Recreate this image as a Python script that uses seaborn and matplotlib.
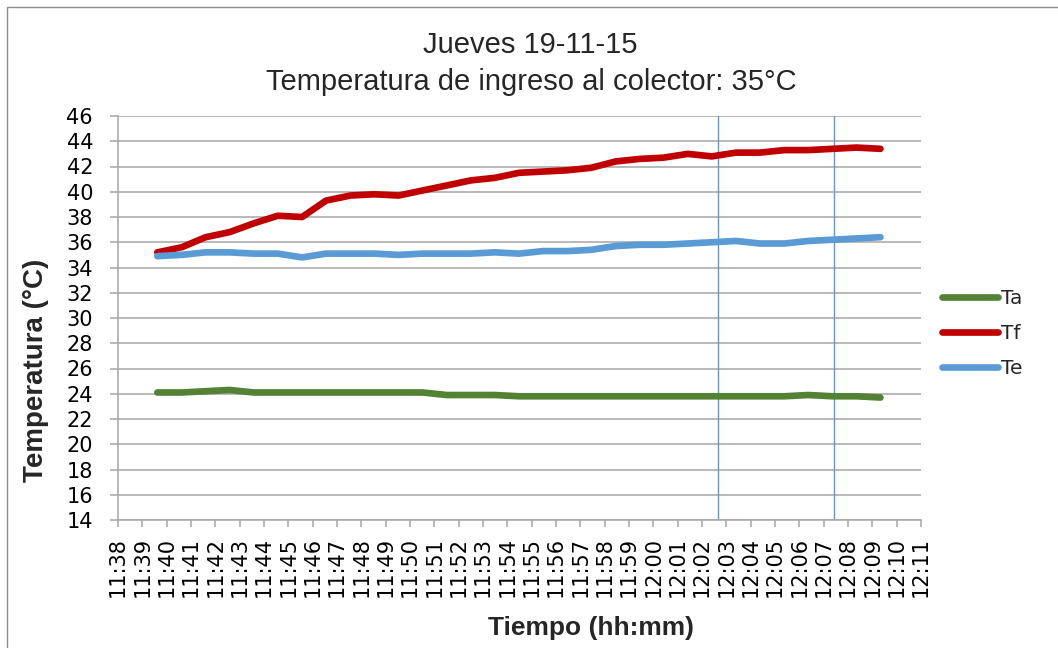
import matplotlib
matplotlib.use("Agg")
import matplotlib.pyplot as plt
import matplotlib.dates as mdates
import matplotlib.patches as mpatches
import seaborn as sns
import pandas as pd

# ---- data -----------------------------------------------------------
times = ["11:39:37", "11:40:37", "11:41:36", "11:42:35", "11:43:35", "11:44:34",
         "11:45:34", "11:46:33", "11:47:33", "11:48:32", "11:49:32", "11:50:31",
         "11:51:31", "11:52:30", "11:53:29", "11:54:29", "11:55:28", "11:56:28",
         "11:57:27", "11:58:27", "11:59:26", "12:00:25", "12:01:25", "12:02:24",
         "12:03:24", "12:04:23", "12:05:23", "12:06:22", "12:07:22", "12:08:21",
         "12:09:20"]
ta = [24.1, 24.1, 24.2, 24.3, 24.1, 24.1, 24.1, 24.1, 24.1, 24.1, 24.1, 24.1,
      23.9, 23.9, 23.9, 23.8, 23.8, 23.8, 23.8, 23.8, 23.8, 23.8, 23.8, 23.8,
      23.8, 23.8, 23.8, 23.9, 23.8, 23.8, 23.7]
tf = [35.2, 35.6, 36.4, 36.8, 37.5, 38.1, 38.0, 39.3, 39.7, 39.8, 39.7, 40.1,
      40.5, 40.9, 41.1, 41.5, 41.6, 41.7, 41.9, 42.4, 42.6, 42.7, 43.0, 42.8,
      43.1, 43.1, 43.3, 43.3, 43.4, 43.5, 43.4]
te = [34.9, 35.0, 35.2, 35.2, 35.1, 35.1, 34.8, 35.1, 35.1, 35.1, 35.0, 35.1,
      35.1, 35.1, 35.2, 35.1, 35.3, 35.3, 35.4, 35.7, 35.8, 35.8, 35.9, 36.0,
      36.1, 35.9, 35.9, 36.1, 36.2, 36.3, 36.4]
series_names = ["Ta", "Tf", "Te"]
series_colors = ["#548235", "#C00000", "#5B9BD5"]
vlines_t = ["12:02:40", "12:07:26"]
x_start, x_end = "11:38:00", "12:11:00"
y_ticks = list(range(14, 47, 2))
title1 = "Jueves 19-11-15"
title2 = "Temperatura de ingreso al colector: 35°C"
xlabel = "Tiempo (hh:mm)"
ylabel = "Temperatura (°C)"

day = "2015-11-19 "
t = pd.to_datetime([day + s for s in times])
df = pd.DataFrame({"t": list(t) * 3,
                   "val": ta + tf + te,
                   "serie": sum([[n] * len(times) for n in series_names], [])})

# ---- figure ---------------------------------------------------------
sns.set_theme(style="white")
plt.rcParams["font.family"] = ["DejaVu Sans"]
TICKFONT = "DejaVu Sans"
HEADFONT = "Liberation Sans"

fig = plt.figure(figsize=(10.58, 6.48), dpi=100)
ax = fig.add_axes([118 / 1058, 1 - 520 / 648, (921 - 118) / 1058, (520 - 116) / 648])

sns.lineplot(data=df, x="t", y="val", hue="serie", hue_order=series_names,
             palette=series_colors, linewidth=4.8, ax=ax, legend=False,
             solid_capstyle="round", solid_joinstyle="round", zorder=3)

for v in vlines_t:
    ax.axvline(pd.Timestamp(day + v), color="#5B9BD5", linewidth=1.0, zorder=2)

ax.set_xlim(pd.Timestamp(day + x_start), pd.Timestamp(day + x_end))
ax.set_ylim(min(y_ticks), max(y_ticks))
ax.set_yticks(y_ticks)
ax.xaxis.set_major_locator(mdates.MinuteLocator(interval=1))
ax.xaxis.set_major_formatter(mdates.DateFormatter("%H:%M"))

grid_c = "#A6A6A6"
ax.yaxis.grid(True, color=grid_c, linewidth=1.1)
ax.xaxis.grid(False)
for s in ["top", "right"]:
    ax.spines[s].set_visible(False)
for s in ["left", "bottom"]:
    ax.spines[s].set_color(grid_c)
    ax.spines[s].set_linewidth(1.1)
ax.tick_params(axis="y", direction="out", length=6, width=1.1, color=grid_c,
               labelsize=15, pad=12, left=True, labelcolor="black")
ax.tick_params(axis="x", direction="out", length=5, width=1.1, color=grid_c,
               labelsize=15, pad=7, bottom=True, rotation=90, labelcolor="black")
for lab in ax.get_xticklabels() + ax.get_yticklabels():
    lab.set_fontfamily(TICKFONT)
ax.set_xlabel("")
ax.set_ylabel("")

# legend
handles = [plt.Line2D([], [], color=c, linewidth=4.8, solid_capstyle="round")
           for c in series_colors]
fig.legend(handles, series_names, loc="center left",
           bbox_to_anchor=(932 / 1058, 1 - 333.5 / 648), frameon=False,
           prop={"family": TICKFONT, "size": 14.5},
           handlelength=2.8, handletextpad=0.15, labelspacing=0.8,
           borderpad=0)

# titles / labels
fig.text(530 / 1058, 1 - 45 / 648, title1, ha="center", va="center",
         fontsize=21, family=HEADFONT)
fig.text(531 / 1058, 1 - 82 / 648, title2, ha="center", va="center",
         fontsize=21, family=HEADFONT)
fig.text(591 / 1058, 1 - 628 / 648, xlabel, ha="center", va="center",
         fontsize=19, fontweight="bold", family=HEADFONT)
fig.text(36 / 1058, 1 - 370 / 648, ylabel, ha="center", va="center",
         rotation=90, fontsize=20, fontweight="bold", family=HEADFONT)

# outer border
fig.patches.append(mpatches.Rectangle((7 / 1058, -0.1), 1.2, 1.1 - 7 / 648,
                                      transform=fig.transFigure, fill=False,
                                      edgecolor="#8C8C8C", linewidth=1.0))

fig.savefig("out.png", dpi=100)
